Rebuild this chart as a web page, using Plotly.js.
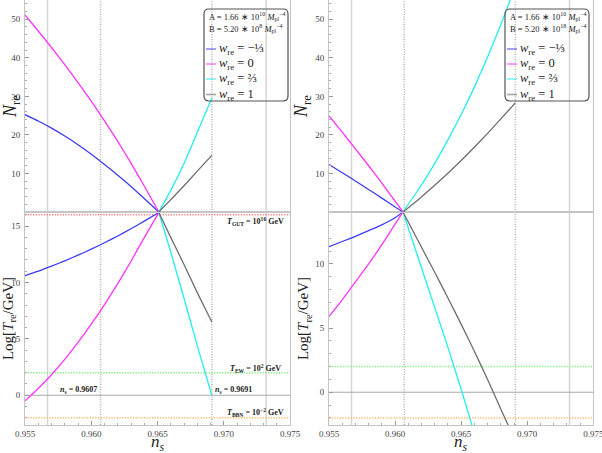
<!DOCTYPE html>
<html><head><meta charset="utf-8">
<script src="https://cdn.plot.ly/plotly-3.0.1.min.js"></script>
<style>html,body{margin:0;padding:0;background:#fff}#chart{width:602px;height:453px}</style>
</head><body><div id="chart"></div>
<script>
// ---------- data ----------
const wLabels = ['<i>w</i><sub>re</sub> = −⅓', '<i>w</i><sub>re</sub> = 0', '<i>w</i><sub>re</sub> = ⅔', '<i>w</i><sub>re</sub> = 1'];
const wColors = ['#3b3bf5', '#ff33ff', '#22eeee', '#6e6e6e'];

// Left panel (A = 1.66e10, B = 5.20e8)
const nsL_low = [0.955, 0.956, 0.957, 0.958, 0.959, 0.960, 0.961, 0.962, 0.963, 0.964, 0.9651];
const nsL_high = [0.9651, 0.966, 0.967, 0.968, 0.9691];
const nreL_m13 = [25.25, 23.6, 21.75, 19.7, 17.45, 15.0, 12.35, 9.55, 6.6, 3.5, 0];
const nreL_0 = [51.1, 46.96, 42.67, 38.23, 33.59, 28.75, 23.66, 18.32, 12.68, 6.74, 0];
const nreL_23 = [0, 5.6, 12.6, 20.6, 29.6];
const nreL_1 = [0, 3.2, 6.8, 10.6, 14.7];
const tL_m13 = [10.6, 11.0, 11.45, 11.92, 12.42, 12.95, 13.52, 14.12, 14.76, 15.44, 16.2];
const tL_0 = [-0.5, 0.6, 1.82, 3.18, 4.68, 6.3, 8.04, 9.9, 11.88, 13.98, 16.2];
const tL_23 = [16.2, 12.7, 8.6, 4.4, 0];
const tL_1 = [16.2, 14.0, 11.6, 9.1, 6.5];

// Right panel (A = 1.66e10, B = 5.20e18)
const nsR_low = [0.955, 0.956, 0.957, 0.958, 0.959, 0.960, 0.9606];
const nsR_high = [0.9606, 0.962, 0.963, 0.964, 0.9651, 0.966, 0.967, 0.968, 0.9691];
const nreR_m13 = [12.3, 10.2, 8.05, 5.85, 3.6, 1.3, 0];
const nreR_0 = [24.9, 20.7, 16.4, 12.0, 7.5, 2.8, 0];
const nreR_23 = [0, 7.0, 12.6, 18.7, 25.96, 32.4, 40.2, 48.6, 58.5];
const nreR_1 = [0, 3.92, 6.92, 10.07, 13.7, 16.8, 20.4, 24.15, 28.3];
const tR_m13 = [11.35, 11.75, 12.15, 12.6, 13.05, 13.6, 14.05];
const tR_0 = [5.9, 7.2, 8.6, 10.0, 11.5, 13.1, 14.05];
const tR_23 = [14.05, 9.7, 6.6, 3.5, -0.1, -3.2, -6.7, -10.3, -14.2];
const tR_1 = [14.05, 11.3, 9.35, 7.35, 5.1, 3.2, 1.0, -1.3, -3.8];

// axes & reference lines
const xTickStart = 0.955, xTickStep = 0.005, xTickFormat = '.3f';
const nreTicks = [10, 20, 30, 40, 50];
const tTicks = [0, 5, 10, 15];
const vSolid = [0.9567, 0.9732];
const vDotted = [0.9607, 0.9691];
const refLevels = [16, 2, -2];
const refColors = ['#ff7878', '#7cf07c', '#ffb860'];
const refLabelsText = ['<i>T</i><sub>GUT</sub> = 10<sup>16</sup> GeV', '<i>T</i><sub>EW</sub> = 10<sup>2</sup> GeV', '<i>T</i><sub>BBN</sub> = 10<sup>−2</sup> GeV'];
const nsMarks = ['<i>n</i><sub>s</sub> = 0.9607', '<i>n</i><sub>s</sub> = 0.9691'];
const paramLinesL = ['A = 1.66 ∗ 10<sup>10</sup> <i>M</i><sub>pl</sub><sup>−4</sup>', 'B = 5.20 ∗ 10<sup>8</sup> <i>M</i><sub>pl</sub><sup>−4</sup>'];
const paramLinesR = ['A = 1.66 ∗ 10<sup>10</sup> <i>M</i><sub>pl</sub><sup>−4</sup>', 'B = 5.20 ∗ 10<sup>18</sup> <i>M</i><sub>pl</sub><sup>−4</sup>'];

// ---------- layout helpers ----------
const W = 602, H = 453;
const px = x => x / W, py = y => 1 - y / H;
const serif = 'Liberation Serif, Times New Roman, serif';
const xL = [px(25), px(290)], xR = [px(329), px(593.3)];
const yTop = [py(212), 1], yBot = [py(425), py(212)];

function tr(x, y, xa, ya, c, name) {
  return {x: x, y: y, xaxis: xa, yaxis: ya, type: 'scatter', mode: 'lines', name: name,
    line: {color: c, width: 1.3, shape: 'spline', smoothing: 0.5}, showlegend: false, hoverinfo: 'skip'};
}
const traces = [
  tr(nsL_low, nreL_m13, 'x2', 'y2', wColors[0], 'w=-1/3'),
  tr(nsL_low, nreL_0, 'x2', 'y2', wColors[1], 'w=0'),
  tr(nsL_high, nreL_23, 'x2', 'y2', wColors[2], 'w=2/3'),
  tr(nsL_high, nreL_1, 'x2', 'y2', wColors[3], 'w=1'),
  tr(nsL_low, tL_m13, 'x', 'y', wColors[0], 'w=-1/3'),
  tr(nsL_low, tL_0, 'x', 'y', wColors[1], 'w=0'),
  tr(nsL_high, tL_23, 'x', 'y', wColors[2], 'w=2/3'),
  tr(nsL_high, tL_1, 'x', 'y', wColors[3], 'w=1'),
  tr(nsR_low, nreR_m13, 'x4', 'y4', wColors[0], 'w=-1/3'),
  tr(nsR_low, nreR_0, 'x4', 'y4', wColors[1], 'w=0'),
  tr(nsR_high, nreR_23, 'x4', 'y4', wColors[2], 'w=2/3'),
  tr(nsR_high, nreR_1, 'x4', 'y4', wColors[3], 'w=1'),
  tr(nsR_low, tR_m13, 'x3', 'y3', wColors[0], 'w=-1/3'),
  tr(nsR_low, tR_0, 'x3', 'y3', wColors[1], 'w=0'),
  tr(nsR_high, tR_23, 'x3', 'y3', wColors[2], 'w=2/3'),
  tr(nsR_high, tR_1, 'x3', 'y3', wColors[3], 'w=1')
];

const tickFont = {family: serif, size: 9, color: '#444'};
function xAxis(domain, anchor, labels) {
  const a = {domain: domain, anchor: anchor, range: [0.955, 0.975], showgrid: false, zeroline: false,
    showline: true, mirror: true, linecolor: '#c4c4c4', linewidth: 1,
    ticks: labels ? 'inside' : '', ticklen: 4, tickcolor: '#999',
    tickmode: 'linear', tick0: xTickStart, dtick: xTickStep, tickformat: xTickFormat,
    showticklabels: labels, tickfont: tickFont, ticklabeloverflow: 'allow', ticklabelstandoff: 0};
  if (labels) a.minor = {ticks: 'inside', ticklen: 2, dtick: 0.001, tick0: 0.955, tickcolor: '#aaa'};
  return a;
}
function yAxis(domain, anchor, range, ticks, minorStep, title, tsize) {
  return {domain: domain, anchor: anchor, range: range, showgrid: false, zeroline: false,
    showline: true, mirror: true, linecolor: '#c4c4c4', linewidth: 1,
    ticks: 'inside', ticklen: 4, tickcolor: '#999', tickvals: ticks, ticktext: ticks.map(String),
    tickfont: tickFont, ticklabelstandoff: 2, ticklabeloverflow: 'allow',
    minor: {ticks: 'inside', ticklen: 2, dtick: minorStep, tick0: 0, tickcolor: '#aaa'},
    title: {text: title, font: {family: serif, size: tsize, color: '#222'}, standoff: 2}};
}
const nreTitle = '<i>N</i><sub>re</sub>';
const tTitle = 'Log[<i>T</i><sub>re</sub>/GeV]';
const nsTitle = '<i>n</i><sub><i>s</i></sub>';

const shapes = [];
const annotations = [];
[['x', 'y', [-2.64, 16.25], xL], ['x3', 'y3', [-2.55, 14.05], xR]].forEach(([xa, ya, rng, dom]) => {
  vSolid.forEach(v => shapes.push({type: 'line', xref: xa, yref: 'paper', x0: v, x1: v, y0: yBot[0], y1: 1,
    line: {color: '#d6d6d6', width: 1.5}, layer: 'below'}));
  vDotted.forEach(v => shapes.push({type: 'line', xref: xa, yref: 'paper', x0: v, x1: v, y0: yBot[0], y1: 1,
    line: {color: '#b4b4b4', width: 1.5, dash: '1px,1.5px'}, layer: 'below'}));
  shapes.push({type: 'line', xref: xa + ' domain', yref: ya, x0: 0, x1: 1, y0: 0, y1: 0,
    line: {color: '#a8a8a8', width: 1.1}, layer: 'below'});
  refLevels.forEach((lv, i) => {
    if (lv <= rng[1]) shapes.push({type: 'line', xref: xa + ' domain', yref: ya, x0: 0, x1: 1, y0: lv, y1: lv,
      line: {color: refColors[i], width: 1.5, dash: '1.2px,1.5px'}, layer: 'below'});
  });
  // x-axis title (n_s) below tick labels
  annotations.push({xref: 'paper', yref: 'paper', x: (dom[0] + dom[1]) / 2, y: py(443), text: nsTitle, showarrow: false,
    xanchor: 'center', yanchor: 'middle', font: {family: serif, size: 17, color: '#222'}});
});

// labels of reference lines (left panel only)
const labelFont = {family: serif, size: 8, color: '#222'};
const refLabelY = [15.45, 2.35, -1.5];
refLabelsText.forEach((t, i) => annotations.push({xref: 'x', yref: 'y', x: 0.9724, y: refLabelY[i], text: '<b>' + t + '</b>',
  showarrow: false, font: labelFont, xanchor: 'center', yanchor: 'middle'}));
annotations.push({xref: 'x', yref: 'y', x: 0.9606, y: 0.47, text: '<b>' + nsMarks[0] + '</b>', showarrow: false,
  font: labelFont, xanchor: 'right', yanchor: 'middle'});
annotations.push({xref: 'x', yref: 'y', x: 0.9692, y: 0.47, text: '<b>' + nsMarks[1] + '</b>', showarrow: false,
  font: labelFont, xanchor: 'left', yanchor: 'middle'});

// custom legends
function legendBox(offset, params) {
  const x0 = px(204 + offset), x1 = px(288 + offset), y0 = py(101), y1 = py(9);
  const rx = 5 / W, ry = 5 / H;
  shapes.push({type: 'path', xref: 'paper', yref: 'paper',
    path: `M${x0 + rx},${y1} L${x1 - rx},${y1} Q${x1},${y1} ${x1},${y1 - ry} L${x1},${y0 + ry} Q${x1},${y0} ${x1 - rx},${y0} L${x0 + rx},${y0} Q${x0},${y0} ${x0},${y0 + ry} L${x0},${y1 - ry} Q${x0},${y1} ${x0 + rx},${y1} Z`,
    line: {color: '#555', width: 1.2}, fillcolor: 'rgba(0,0,0,0)'});
  params.forEach((t, i) => annotations.push({xref: 'paper', yref: 'paper', x: px(207 + offset), y: py(17 + 12 * i), text: t,
    showarrow: false, xanchor: 'left', yanchor: 'middle', font: {family: serif, size: 8.5, color: '#222'}}));
  const rowY = [49, 64, 79, 94.5];
  wLabels.forEach((t, i) => {
    shapes.push({type: 'line', xref: 'paper', yref: 'paper', x0: px(206 + offset), x1: px(216 + offset), y0: py(rowY[i]), y1: py(rowY[i]),
      line: {color: wColors[i], width: 1.6}, opacity: 0.6});
    annotations.push({xref: 'paper', yref: 'paper', x: px(217 + offset), y: py(rowY[i]), text: t, showarrow: false,
      xanchor: 'left', yanchor: 'middle', font: {family: serif, size: 12.5, color: '#222'}});
  });
}
legendBox(0, paramLinesL);
legendBox(301, paramLinesR);

const layout = {
  width: W, height: H, margin: {l: 0, r: 0, t: 0, b: 0}, paper_bgcolor: '#fff', plot_bgcolor: '#fff',
  showlegend: false, font: {family: serif},
  xaxis: xAxis(xL, 'y', true),
  yaxis: yAxis(yBot, 'x', [-2.64, 16.25], tTicks, 1, tTitle, 15),
  xaxis2: xAxis(xL, 'y2', false),
  yaxis2: yAxis(yTop, 'x2', [0, 55], nreTicks, 2, nreTitle, 18),
  xaxis3: xAxis(xR, 'y3', true),
  yaxis3: yAxis(yBot, 'x3', [-2.55, 14.05], tTicks, 1, tTitle, 15),
  xaxis4: xAxis(xR, 'y4', false),
  yaxis4: yAxis(yTop, 'x4', [0, 55], nreTicks, 2, nreTitle, 18),
  shapes: shapes, annotations: annotations
};
Plotly.newPlot('chart', traces, layout, {displayModeBar: false, staticPlot: true}).then(gd => {
  // make sure no x tick label of the right panel stays hidden
  gd.querySelectorAll('g.x3tick text, g.xtick text').forEach(t => { t.style.display = ''; t.setAttribute('opacity', 1); t.style.opacity = 1; });
});
</script></body></html>
